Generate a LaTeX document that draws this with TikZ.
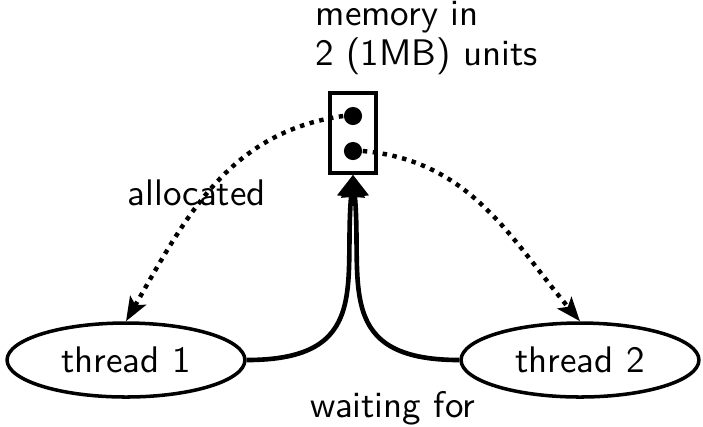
\documentclass[tikz,border=0pt]{standalone}
\usetikzlibrary{arrows.meta,shapes.geometric}
\begin{document}
\begin{tikzpicture}[x=0.2703pt,y=-0.2703pt,
  every node/.style={font=\sffamily\fontsize{10}{10.8}\selectfont},
  thr/.style={draw,ellipse,line width=0.95pt,minimum width=64.3pt,minimum height=20pt,inner sep=0pt},
  membox/.style={draw,rectangle,line width=0.95pt,minimum width=12.4pt,minimum height=21.6pt,inner sep=0pt},
  blob/.style={circle,fill=black,inner sep=0pt,minimum size=4.9pt},
  lbl/.style={inner sep=0pt,anchor=base west},
  wait/.style={line width=1.25pt,-{Triangle[length=5.95pt,width=7.3pt]}},
  alloc/.style={line width=1.2pt,dash pattern=on 1.2pt off 1.5pt,-{Stealth[length=6.5pt,width=4.9pt,inset=1.4pt]}}]
\useasboundingbox (0,0) rectangle (703,426);
\node[membox] (mem) at (353,133) {};
\node[blob] (d1) at (353,116) {};
\node[blob] (d2) at (353,151) {};
\node[thr] (t1) at (126,360) {thread 1};
\node[thr] (t2) at (580,360) {thread 2};
\node[lbl,align=left] (memlbl) at (315,65) {memory in\\2 (1MB) units};
\node[lbl] (alloclbl) at (127,205) {allocated};
\node[lbl] (waitlbl) at (310,417) {waiting for};
\draw[wait] (t1.east) to[out=0,in=-95,out looseness=1.5,in looseness=1.3] (mem.south);
\draw[wait] (t2.west) to[out=180,in=-85,out looseness=1.5,in looseness=1.3] (mem.south);
\draw[alloc] (d1.west) to[out=188,in=60] (t1.north);
\draw[alloc] (d2.east) to[out=-5,in=130] (t2.north);
\end{tikzpicture}
\end{document}
